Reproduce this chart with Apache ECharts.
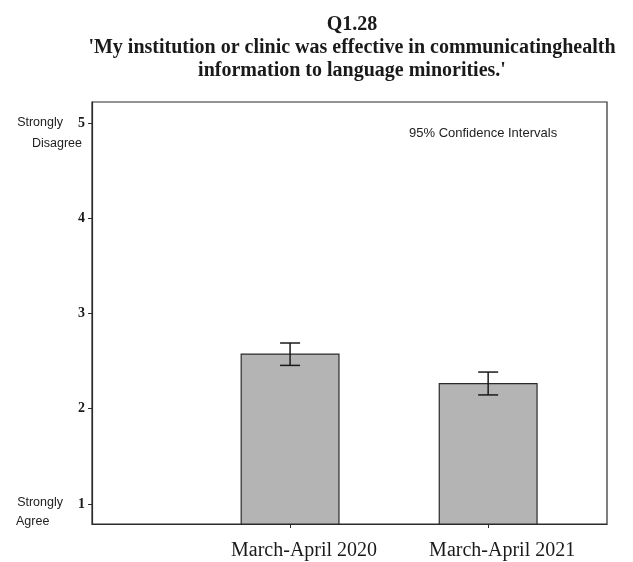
<!DOCTYPE html>
<html>
<head>
<meta charset="utf-8">
<script src="https://cdn.jsdelivr.net/npm/echarts@6/dist/echarts.min.js"></script>
<style>
  html, body { margin: 0; padding: 0; background: #fff; }
  #chart { width: 633px; height: 562px; }
</style>
</head>
<body>
<div id="chart"></div>
<script>
// Survey periods and mean agreement scores (1 = Strongly Agree, 5 = Strongly Disagree)
const categories = ['March-April 2020', 'March-April 2021'];
const meanScores = [2.58, 2.27];
const ciLower = [2.455, 2.145];
const ciUpper = [2.69, 2.385];
const yTicks = [1, 2, 3, 4, 5];
const titleLines = ['Q1.28', "'My institution or clinic was effective in communicatinghealth", "information to language minorities.'"];

const chart = echarts.init(document.getElementById('chart'), null, { renderer: 'canvas' });

const xPos = categories.map((_, i) => i + 1);
const ink = '#2b2b2b';

const option = {
  animation: false,
  backgroundColor: '#ffffff',
  title: {
    text: titleLines[0] + '\n' + titleLines[1] + '\n' + titleLines[2],
    left: 347,
    textAlign: 'center',
    top: 8,
    textStyle: {
      fontFamily: 'Liberation Serif',
      fontWeight: 'bold',
      fontSize: 20,
      lineHeight: 23,
      color: '#1a1a1a'
    }
  },
  grid: {
    left: 92, right: 26, top: 102, bottom: 38,
    show: true,
    borderColor: ink,
    borderWidth: 1.2,
    backgroundColor: 'transparent'
  },
  xAxis: {
    type: 'value',
    min: 0,
    max: 2.6,
    splitLine: { show: false },
    axisLine: { show: true, onZero: false, lineStyle: { color: ink, width: 1.2 } },
    axisTick: { show: true, customValues: xPos, length: 4, lineStyle: { color: ink } },
    axisLabel: {
      customValues: xPos,
      margin: 17,
      formatter: v => categories[Math.round(v) - 1] || '',
      fontFamily: 'Liberation Serif',
      fontSize: 20,
      color: '#1a1a1a',
      padding: [0, 0, 0, 28]
    }
  },
  yAxis: {
    type: 'value',
    min: 0.79,
    max: 5.22,
    splitLine: { show: false },
    axisLine: { show: true, onZero: false, lineStyle: { color: ink, width: 1.2 } },
    axisTick: { show: true, customValues: yTicks, length: 4, lineStyle: { color: ink } },
    axisLabel: {
      customValues: yTicks,
      margin: 7,
      fontFamily: 'Liberation Serif',
      fontWeight: 'bold',
      fontSize: 14,
      color: '#1a1a1a'
    }
  },
  series: [
    {
      type: 'bar',
      data: xPos.map((x, i) => [x, meanScores[i]]),
      barWidth: 99,
      itemStyle: { color: '#b4b4b4', borderColor: ink, borderWidth: 1.2 },
      z: 2
    },
    {
      type: 'custom',
      data: xPos.map((x, i) => [x, ciLower[i], ciUpper[i]]),
      z: 5,
      renderItem: function (params, api) {
        const lo = api.coord([api.value(0), api.value(1)]);
        const hi = api.coord([api.value(0), api.value(2)]);
        const half = 10;
        const style = { stroke: '#1a1a1a', lineWidth: 1.5 };
        return {
          type: 'group',
          children: [
            { type: 'line', shape: { x1: hi[0], y1: hi[1], x2: lo[0], y2: lo[1] }, style },
            { type: 'line', shape: { x1: hi[0] - half, y1: hi[1], x2: hi[0] + half, y2: hi[1] }, style },
            { type: 'line', shape: { x1: lo[0] - half, y1: lo[1], x2: lo[0] + half, y2: lo[1] }, style }
          ]
        };
      }
    }
  ]
};

chart.setOption(option);

// Scale anchor words next to the end points of the y axis
const y5 = chart.convertToPixel({ yAxisIndex: 0 }, 5);
const y1 = chart.convertToPixel({ yAxisIndex: 0 }, 1);
const sans = { fontFamily: 'Liberation Sans', fontSize: 12.5, fill: '#222' };
chart.setOption({
  graphic: [
    { type: 'text', x: 63, y: y5, style: Object.assign({ text: 'Strongly', align: 'right', verticalAlign: 'middle' }, sans) },
    { type: 'text', x: 82, y: y5 + 21, style: Object.assign({ text: 'Disagree', align: 'right', verticalAlign: 'middle' }, sans) },
    { type: 'text', x: 63, y: y1 - 1, style: Object.assign({ text: 'Strongly', align: 'right', verticalAlign: 'middle' }, sans) },
    { type: 'text', x: 16, y: y1 + 18, style: Object.assign({ text: 'Agree', align: 'left', verticalAlign: 'middle' }, sans) },
    { type: 'text', x: 409, y: 133, style: Object.assign({ text: '95% Confidence Intervals', align: 'left', verticalAlign: 'middle' }, sans, { fontSize: 13 }) }
  ]
});
</script>
</body>
</html>
